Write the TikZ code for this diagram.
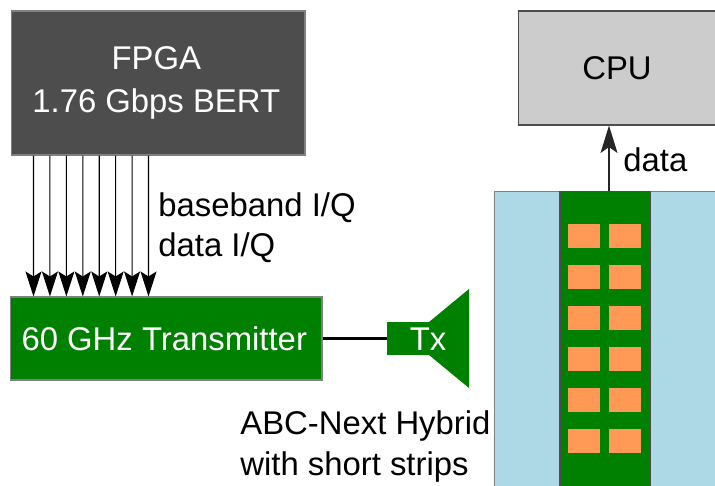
\documentclass[tikz,border=0pt]{standalone}
\usepackage{fontspec}
\setmainfont{Liberation Sans}
\usetikzlibrary{arrows.meta,calc,positioning}
\definecolor{darkbox}{HTML}{4D4D4D}
\definecolor{greybox}{HTML}{CCCCCC}
\definecolor{boxline}{HTML}{808080}
\definecolor{chipgreen}{HTML}{008000}
\definecolor{softblue}{HTML}{ADD8E6}
\definecolor{padorange}{HTML}{FF9955}
\tikzset{
  lbl/.style={font=\fontsize{18.7}{22}\selectfont,inner sep=0pt},
  block/.style={lbl,draw,line width=0.6pt,minimum width=#1,inner sep=0pt},
  sigarrow/.style={-{Stealth[length=5mm,width=3.2mm,inset=1mm]},line width=0.6pt,black},
}
\begin{document}
\begin{tikzpicture}[x=0.02cm,y=-0.02cm]
    \useasboundingbox (0,0) rectangle (715,485);
    % front end
    \node[block=5.88cm,minimum height=2.88cm,fill=darkbox,draw=boxline,text=white,align=center,
      font=\fontsize{18.7}{23.5}\selectfont] (fpga) at (158,83) {\hspace*{-2pt}FPGA\\[1pt]\hspace*{-2pt}1.76 Gbps BERT};
    \node[block=6.24cm,minimum height=1.66cm,fill=chipgreen,draw=boxline,text=white] (tx) at (166,338.5) {\hspace*{-2pt}60 GHz Transmitter};
    \foreach \i in {0,...,7} {
      \draw[sigarrow] ($(fpga.south west)+(23+16.43*\i,0)$) -- ($(tx.north west)+(24+16.43*\i,0)$);
    }
    \node[lbl,anchor=west] (baseband) at (158,208) {baseband I/Q};
    \node[lbl,anchor=west] (dataiq) at (158,248) {data I/Q};
    % horn
    \node[fill=chipgreen,minimum width=0.84cm,minimum height=0.66cm,inner sep=0pt] (txbox) at (408,338.5) {};
    \fill[chipgreen] (429,322) -- (469,289) -- (469,388) -- (429,355) -- cycle;
    \node[lbl,text=white] (txlabel) at (428,339) {Tx};
    \draw[line width=1.7pt] (tx) -- (txbox);
    \node[lbl,anchor=west] (abc) at (240,426) {ABC-Next Hybrid};
    \node[lbl,anchor=west] (strips) at (240,467) {with short strips};
    % module
    \draw[boxline,fill=softblue,line width=0.5pt] (494,191) rectangle (717,487);
    \node[draw=black!70,fill=chipgreen,line width=0.6pt,minimum width=1.8cm,minimum height=5.92cm,inner sep=0pt] (hybrid) at (605,339) {};
    \foreach \y in {236,277,318,359,400,441} {
      \fill[padorange] (568,\y-12) rectangle (600,\y+12);
      \fill[padorange] (609,\y-12) rectangle (641,\y+12);
    }
    \node[block=3.96cm,minimum height=2.28cm,fill=greybox,draw=black!70] (cpu) at (617,68) {CPU};
    \coordinate (hybridtop) at (609,191);
    \draw[-{Stealth[length=5.5mm,width=3.4mm,inset=1.2mm]},line width=0.7pt,black!85] (hybridtop) -- (hybridtop |- cpu.south);
    \node[lbl,anchor=west] (datalabel) at (623,160) {data};
  \end{tikzpicture}
\end{document}
